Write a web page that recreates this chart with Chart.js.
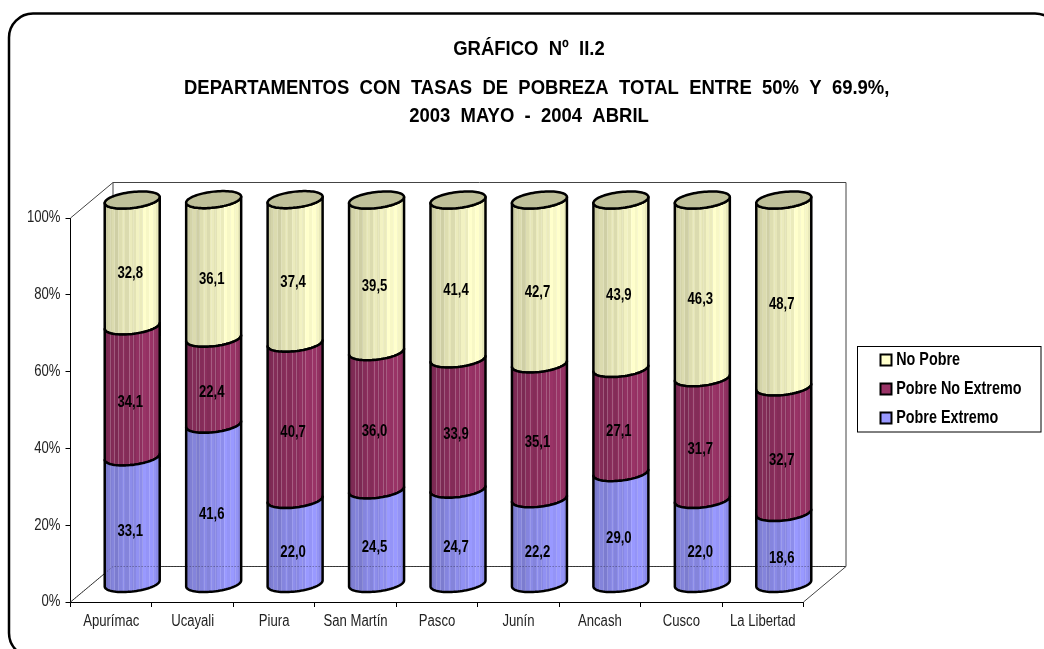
<!DOCTYPE html>
<html><head><meta charset="utf-8">
<style>html,body{margin:0;padding:0;background:#fff}canvas{display:block}</style>
<script src="https://cdn.jsdelivr.net/npm/chart.js@4"></script>
</head><body><canvas id="c" width="1044" height="649"></canvas>
<script>
const categories = ['Apurímac','Ucayali','Piura','San Martín','Pasco','Junín','Ancash','Cusco','La Libertad'];
const pobreExtremo = [33.1,41.6,22.0,24.5,24.7,22.2,29.0,22.0,18.6];
const pobreNoExtremo = [34.1,22.4,40.7,36.0,33.9,35.1,27.1,31.7,32.7];
const noPobre = [32.8,36.1,37.4,39.5,41.4,42.7,43.9,46.3,48.7];
const seriesNames = ['Pobre Extremo','Pobre No Extremo','No Pobre'];
const seriesColors = ['#9999FF','#993366','#FFFFCC'];
const titleLine = 'GRÁFICO  Nº  II.2';
const subtitleLines = ['   DEPARTAMENTOS  CON  TASAS  DE  POBREZA  TOTAL  ENTRE  50%  Y  69.9%,','2003  MAYO  -  2004  ABRIL'];
const yTicks = [0,20,40,60,80,100];

const FONT = '"Liberation Sans", Arial, sans-serif';
const DEPTH_X = 42.5, DEPTH_Y = 35.5;           // oblique depth of the 3D box
const CYL_DX = 21, CYL_DY = 18;                 // cylinder centre relative to the front plane
const CYL_RX = 27.5, CYL_TILT = 3, CYL_RY = 8;  // sheared ellipse
const SHADES = [.80,.83,.86,.81,.87,.90,.86,.92,.89,.95,.92,1,.97,1,.96,.91];
const STRIPES = [.10,.17,.24,.33,.45,.52,.62,.68,.80,.88];

// The reference font is a condensed face: narrow the text horizontally, keyed by font size
const TEXT_FIT = {21:{sx:.88,dx:0},16:{sx:.82,dx:0},17.5:{sx:.82,dx:-4}};
const nativeFill = CanvasRenderingContext2D.prototype.fillText;
CanvasRenderingContext2D.prototype.fillText = function(t,x,y){
  const m = this.font.match(/([\d.]+)px/);
  const fit = TEXT_FIT[m ? parseFloat(m[1]) : 0];
  if(!fit){ nativeFill.call(this,t,x,y); return; }
  this.save(); this.translate(x+fit.dx,y); this.scale(fit.sx,1);
  nativeFill.call(this,t,0,0);
  this.restore();
};

function shade(hex, f){
  const n = parseInt(hex.slice(1),16);
  return 'rgb('+[(n>>16)&255,(n>>8)&255,n&255].map(v=>Math.round(v*f)).join(',')+')';
}
function arcFront(ctx, cx, cy, reverse){
  const N = 40;
  for(let i=0;i<=N;i++){
    const t = Math.PI*(reverse ? (N-i)/N : i/N);
    const x = cx + CYL_RX*Math.cos(t), y = cy - CYL_TILT*Math.cos(t) + CYL_RY*Math.sin(t);
    ctx.lineTo(x,y);
  }
}
function arcBack(ctx, cx, cy){
  const N = 40;
  for(let i=0;i<=N;i++){
    const t = Math.PI + Math.PI*i/N;
    ctx.lineTo(cx + CYL_RX*Math.cos(t), cy - CYL_TILT*Math.cos(t) + CYL_RY*Math.sin(t));
  }
}
// Bars are drawn as cylinders from the geometry computed by the bar controller
Chart.BarElement.prototype.draw = function(ctx){
  const cx = this.x + CYL_DX, top = this.y - CYL_DY, bot = this.base - CYL_DY;
  const col = this.options.backgroundColor;
  const g = ctx.createLinearGradient(cx-CYL_RX,0,cx+CYL_RX,0);
  SHADES.forEach((f,i)=>{
    g.addColorStop(i/SHADES.length, shade(col,f));
    g.addColorStop((i+1)/SHADES.length, shade(col,f));
  });
  ctx.save();
  ctx.beginPath();
  arcFront(ctx,cx,bot,false);   // right -> left along the bottom front edge
  arcFront(ctx,cx,top,true);    // left -> right along the top front edge
  ctx.closePath();
  ctx.fillStyle = g; ctx.fill();
  ctx.save(); ctx.clip();
  ctx.fillStyle = col==='#993366' ? 'rgba(255,255,255,.22)' : 'rgba(255,255,255,.14)';
  STRIPES.forEach(u=>ctx.fillRect(Math.round(cx-CYL_RX+u*2*CYL_RX),top-20,1,bot-top+40));
  ctx.restore();
  ctx.strokeStyle = '#000'; ctx.lineWidth = 2.5; ctx.lineJoin='round';
  ctx.stroke();
  ctx.restore();
};

const frame = {
  id:'frame',
  beforeDraw(chart){
    const ctx = chart.ctx;
    ctx.save();
    ctx.strokeStyle='#000'; ctx.lineWidth=2.5;
    ctx.beginPath(); ctx.roundRect(9,13.5,1050,643.5,24); ctx.stroke();
    ctx.restore();
  },
  afterLayout(chart){
    const l = chart.legend;
    l.left=869; l.right=1044; l.top=339.75; l.bottom=500; l.width=175; l.height=160.25;
  },
  beforeDatasetsDraw(chart){
    const {ctx,chartArea:a} = chart;
    const l=a.left, r=a.right, t=a.top, b=a.bottom;
    ctx.save();
    ctx.lineWidth=1;
    ctx.strokeStyle='#444';
    ctx.beginPath();
    ctx.moveTo(l,t); ctx.lineTo(l+DEPTH_X,t-DEPTH_Y); ctx.lineTo(r+DEPTH_X,t-DEPTH_Y);
    ctx.lineTo(r+DEPTH_X,b-DEPTH_Y); ctx.lineTo(r,b);
    ctx.moveTo(l+DEPTH_X,t-DEPTH_Y); ctx.lineTo(l+DEPTH_X,b-DEPTH_Y); ctx.lineTo(r+DEPTH_X,b-DEPTH_Y);
    ctx.moveTo(l,b); ctx.lineTo(l+DEPTH_X,b-DEPTH_Y);
    ctx.stroke();
    ctx.restore();
  },
  afterDatasetsDraw(chart){
    const {ctx,chartArea:a} = chart;
    const last = chart.getDatasetMeta(2);
    ctx.save();
    last.data.forEach(el=>{
      const cx=el.x+CYL_DX, cy=el.y-CYL_DY;
      ctx.beginPath();
      arcFront(ctx,cx,cy,false);
      arcBack(ctx,cx,cy);
      ctx.closePath();
      ctx.fillStyle='#BFC09A'; ctx.fill();
      ctx.strokeStyle='#000'; ctx.lineWidth=2.5; ctx.stroke();
    });
    // floor lines faintly showing through the cylinders
    ctx.strokeStyle='rgba(0,0,0,.45)'; ctx.lineWidth=1; ctx.setLineDash([1,2]);
    ctx.beginPath();
    ctx.moveTo(a.left,a.bottom); ctx.lineTo(a.left+DEPTH_X,a.bottom-DEPTH_Y); ctx.lineTo(a.right+DEPTH_X,a.bottom-DEPTH_Y);
    ctx.stroke(); ctx.setLineDash([]);
    // value labels
    ctx.font='bold 16px '+FONT; ctx.textAlign='center'; ctx.textBaseline='middle'; ctx.fillStyle='#000';
    chart.data.datasets.forEach((ds,di)=>{
      chart.getDatasetMeta(di).data.forEach((el,i)=>{
        const x=el.x+CYL_DX-2, y=(el.y+el.base)/2-7;
        ctx.fillText(ds.data[i].toFixed(1).replace('.',','),x,y);
      });
    });
    ctx.restore();
  },
  afterDraw(chart){
    const ctx=chart.ctx;
    ctx.save(); ctx.strokeStyle='#000'; ctx.lineWidth=1;
    ctx.strokeRect(857.5,346.5,183.5,85.5);
    ctx.restore();
  }
};

new Chart(document.getElementById('c'),{
  type:'bar',
  data:{labels:categories,datasets:[pobreExtremo,pobreNoExtremo,noPobre].map((d,i)=>({
    label:seriesNames[i],data:d,backgroundColor:seriesColors[i],borderColor:'#000',borderWidth:2,clip:false
  }))},
  plugins:[frame],
  options:{
    responsive:false,animation:false,
    layout:{padding:{left:14,right:0,top:0,bottom:0}},
    scales:{
      x:{stacked:true,
        afterFit(s){s.height=47;},
        grid:{drawOnChartArea:false,tickLength:5,color:'#000',offset:true},
        border:{color:'#000',width:1},
        ticks:{font:{family:FONT,size:16},color:'#222',padding:5,maxRotation:0,autoSkip:false}},
      y:{stacked:true,min:0,max:100,
        afterFit(s){s.width=56.5;},
        afterBuildTicks(s){s.ticks=yTicks.map(v=>({value:v}));},
        grid:{drawOnChartArea:false,tickLength:5,color:'#000'},
        border:{color:'#000',width:1},
        ticks:{font:{family:FONT,size:16},color:'#222',padding:5,callback:v=>v+'%'}},
      gutter:{position:'right',display:true,min:0,max:1,
        afterFit(s){s.width=240.5;},
        grid:{display:false},border:{display:false},ticks:{display:false}}
    },
    plugins:{
      tooltip:{enabled:false},
      title:{display:true,text:titleLine,color:'#000',font:{family:FONT,size:21,weight:'bold',lineHeight:1.2},padding:{top:36.4,bottom:12.4}},
      subtitle:{display:true,text:subtitleLines,color:'#000',font:{family:FONT,size:21,weight:'bold',lineHeight:1.3334},padding:{top:0,bottom:88}},
      legend:{position:'chartArea',align:'start',reverse:true,
        labels:{boxWidth:11,boxHeight:11,padding:11.5,color:'#000',font:{family:FONT,size:17.5,weight:'bold'}}}
    }
  }
});
</script></body></html>
